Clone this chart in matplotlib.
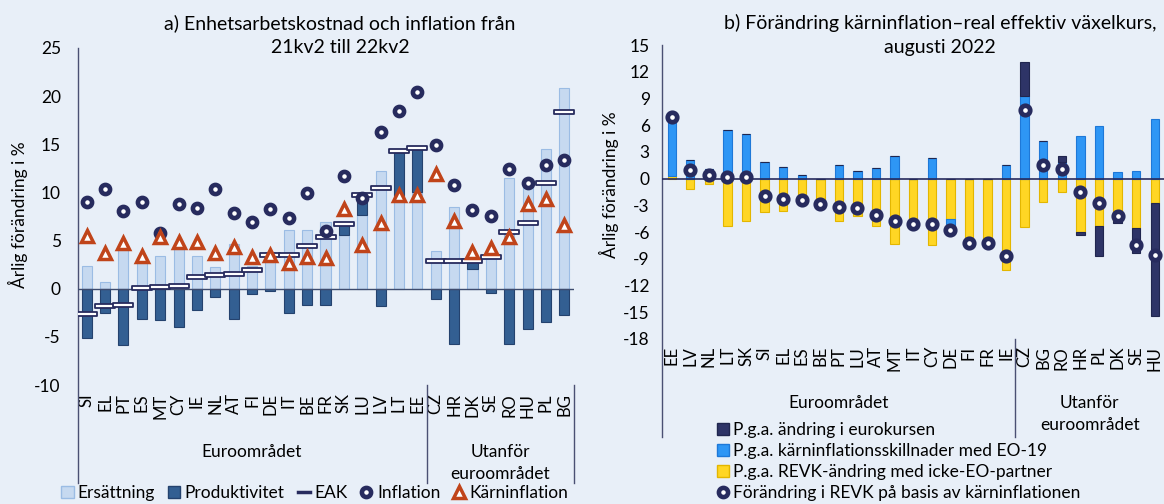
import matplotlib.pyplot as plt
import numpy as np
from matplotlib.path import Path
from matplotlib.patches import Patch
from matplotlib.lines import Line2D

plt.rcParams['font.family'] = ['Lato', 'DejaVu Sans']
plt.rcParams['axes.unicode_minus'] = False

bg = '#E8EFF8'
navy = '#272B5E'

# panel a) - unit labour cost and inflation
land_a = ['SI', 'EL', 'PT', 'ES', 'MT', 'CY', 'IE', 'NL', 'AT', 'FI', 'DE', 'IT', 'BE', 'FR', 'SK', 'LU',
          'LV', 'LT', 'EE', 'CZ', 'HR', 'DK', 'SE', 'RO', 'HU', 'PL', 'BG']
n_euro_a = 19
ersattning = [2.4, 0.7, 4.1, 3.2, 3.4, 4.1, 3.4, 2.3, 4.6, 2.4, 3.8, 6.1, 6.1, 6.9, 5.6, 7.7,
              12.2, 9.6, 10.0, 3.9, 8.5, 2.0, 3.7, 11.5, 11.0, 14.5, 20.8]
produktivitet = [-5.1, -2.55, -5.8, -3.1, -3.25, -3.95, -2.25, -0.85, -3.1, -0.5, -0.25, -2.55, -1.7, -1.7,
                 1.1, 2.0, -1.8, 4.7, 4.6, -1.1, -5.7, 0.85, -0.4, -5.7, -4.2, -3.5, -2.7]
eak = [-2.65, -1.75, -1.7, 0.1, 0.15, 0.25, 1.2, 1.45, 1.5, 1.95, 3.5, 3.55, 4.45, 5.4, 6.7, 9.7,
       10.45, 14.3, 14.65, 2.9, 2.9, 2.9, 3.3, 5.9, 6.8, 11.0, 18.3]
inflation = [9.0, 10.4, 8.1, 9.0, 5.8, 8.8, 8.4, 10.4, 7.9, 6.9, 8.3, 7.35, 9.95, 5.95, 11.7, 9.45,
             16.3, 18.5, 20.4, 14.95, 10.75, 8.2, 7.6, 12.4, 11.0, 12.8, 13.4]
karninflation = [5.45, 3.75, 4.7, 3.4, 5.35, 4.9, 4.8, 3.75, 4.35, 3.3, 3.5, 2.7, 3.3, 3.2, 8.3, 4.5,
                 6.8, 9.75, 9.75, 11.9, 7.0, 3.8, 4.25, 5.4, 8.8, 9.3, 6.6]

# panel b) - change in REER based on core inflation
land_b = ['EE', 'LV', 'NL', 'LT', 'SK', 'SI', 'EL', 'ES', 'BE', 'PT', 'LU', 'AT', 'MT', 'IT', 'CY', 'DE',
          'FI', 'FR', 'IE', 'CZ', 'BG', 'RO', 'HR', 'PL', 'DK', 'SE', 'HU']
n_euro_b = 19
icke_eo = [0.3, -1.15, -0.6, -5.3, -4.8, -3.8, -3.6, -2.9, -2.8, -4.75, -4.2, -5.3, -7.3, -5.1, -7.4, -4.5,
           -7.3, -7.3, -10.2, -5.45, -2.65, -1.45, -6.0, -5.3, -4.8, -5.5, -2.75]
karn_skillnad = [6.6, 2.1, 1.05, 5.5, 5.0, 1.9, 1.3, 0.45, 0.0, 1.55, 0.85, 1.2, 2.5, 0.0, 2.3, -1.3,
                 0.0, 0.0, 1.5, 9.3, 4.2, 1.9, 4.8, 5.9, 0.8, 0.9, 6.7]
eurokurs = [0, 0, 0, 0, 0, 0, 0, 0, 0, 0, 0, 0, 0, 0, 0, 0,
            0, 0, 0, 3.75, 0, 0.65, -0.35, -3.4, -0.2, -2.85, -12.65]
revk = [6.9, 1.0, 0.45, 0.2, 0.2, -1.9, -2.3, -2.45, -2.8, -3.2, -3.35, -4.1, -4.8, -5.1, -5.1, -5.8,
        -7.25, -7.25, -8.7, 7.7, 1.55, 1.1, -1.55, -2.75, -4.2, -7.4, -8.55]

eak_marker = Path([(-1, -0.22), (1, -0.22), (1, 0.22), (-1, 0.22), (-1, -0.22)],
                  [Path.MOVETO, Path.LINETO, Path.LINETO, Path.LINETO, Path.CLOSEPOLY])

FS = 12.5


def stack(ax, x, series, colors, edges, width):
    pos = np.zeros(len(x))
    neg = np.zeros(len(x))
    for vals, c, e in zip(series, colors, edges):
        vals = np.asarray(vals, dtype=float)
        bottom = np.where(vals >= 0, pos, neg)
        ax.bar(x, vals, width, bottom=bottom, color=c, edgecolor=e, linewidth=0.8, zorder=2)
        pos = pos + np.where(vals > 0, vals, 0)
        neg = neg + np.where(vals < 0, vals, 0)


def style_axis(ax, labels, n_euro, drop):
    ax.set_facecolor(bg)
    for s in ax.spines.values():
        s.set_visible(False)
    ax.set_xlim(-0.5, len(labels) - 0.5)
    ax.set_xticks(np.arange(len(labels)))
    ax.set_xticklabels(labels, rotation=90, fontsize=12)
    ax.tick_params(axis='both', length=0)
    tr = ax.get_xaxis_transform()
    ax.plot([-0.5, -0.5], [1, -drop], color='#4A5073', lw=1, transform=tr, clip_on=False)
    ax.plot([n_euro - 0.5, n_euro - 0.5], [0, -drop], color='#4A5073', lw=1, transform=tr, clip_on=False)


def group_labels(ax, n_euro, n_all, y):
    tr = ax.get_xaxis_transform()
    ax.text((n_euro - 1) / 2, y, 'Euroområdet', transform=tr, ha='center', va='top', fontsize=FS)
    ax.text(n_euro + (n_all - n_euro - 1) / 2, y, 'Utanför\neuroområdet', transform=tr,
            ha='center', va='top', fontsize=FS, linespacing=1.45)


fig = plt.figure(figsize=(11.64, 5.04), dpi=100)
fig.patch.set_facecolor(bg)

# ---- panel a
ax1 = fig.add_axes([0.0666, 0.2361, 0.4261, 0.6687])
xa = np.arange(len(land_a))
stack(ax1, xa, [ersattning], ['#C6D9F0'], ['#9BBCE4'], 0.55)
prod = np.asarray(produktivitet)
ax1.bar(xa, prod, 0.55, bottom=np.where(prod > 0, ersattning, 0), color='#335F92',
        edgecolor='#24426E', linewidth=0.8, zorder=2)
ax1.axhline(0, color='#3E4C6E', lw=1, zorder=3)
ax1.plot(xa, eak, ls='none', marker=eak_marker, ms=15, mfc='white', mec=navy, mew=1.3, zorder=4)
ax1.plot(xa, inflation, ls='none', marker='o', ms=6.6, mfc='white', mec=navy, mew=3.3, zorder=5)
ax1.plot(xa, karninflation, ls='none', marker='^', ms=8.3, mfc='white', mec='#C0441A', mew=2.5, zorder=6)
ax1.set_ylim(-10, 25)
ax1.set_yticks(np.arange(-10, 26, 5))
ax1.tick_params(axis='y', labelsize=FS, pad=12)
ax1.tick_params(axis='x', pad=6)
style_axis(ax1, land_a, n_euro_a, 0.29)
ax1.plot([len(land_a) - 0.5] * 2, [0, -0.29], color='#4A5073', lw=1,
         transform=ax1.get_xaxis_transform(), clip_on=False)
group_labels(ax1, n_euro_a, len(land_a), -0.176)
fig.text(18 / 1164, 1 - 215 / 504, 'Årlig förändring i %', rotation=90, ha='center', va='center', fontsize=FS)
fig.text(340 / 1164, 1 - 35 / 504, 'a) Enhetsarbetskostnad och inflation från\n21kv2 till 22kv2',
         ha='center', va='center', fontsize=14, linespacing=1.5)

handles_a = [Patch(facecolor='#C6D9F0', edgecolor='#9BBCE4'),
             Patch(facecolor='#335F92', edgecolor='#24426E'),
             Line2D([], [], color=navy, lw=2.5),
             Line2D([], [], ls='none', marker='o', ms=6.6, mfc='white', mec=navy, mew=3.3),
             Line2D([], [], ls='none', marker='^', ms=8.3, mfc='white', mec='#C0441A', mew=2.5)]
fig.legend(handles_a, ['Ersättning', 'Produktivitet', 'EAK', 'Inflation', 'Kärninflation'],
           loc='center', bbox_to_anchor=(315 / 1164, 1 - 493 / 504), ncol=5, frameon=False,
           fontsize=FS, handlelength=0.7, handletextpad=0.25, columnspacing=0.75, borderpad=0)

# ---- panel b
ax2 = fig.add_axes([0.5691, 0.3274, 0.4309, 0.5833])
xb = np.arange(len(land_b))
stack(ax2, xb, [icke_eo, karn_skillnad, eurokurs],
      ['#FFD624', '#2E96F5', '#2E3467'], ['#E3B600', '#1E78D8', '#20264F'], 0.45)
ax2.axhline(0, color=navy, lw=1.2, zorder=3)
ax2.plot(xb, revk, ls='none', marker='o', ms=6.8, mfc='white', mec=navy, mew=3.4, zorder=5)
ax2.set_ylim(-18, 15)
ax2.set_yticks(np.arange(-18, 16, 3))
ax2.tick_params(axis='y', labelsize=FS, pad=9)
ax2.tick_params(axis='x', pad=5)
style_axis(ax2, land_b, n_euro_b, 0.333)
group_labels(ax2, n_euro_b, len(land_b), -0.19)
fig.text(609 / 1164, 1 - 185 / 504, 'Årlig förändring i %', rotation=90, ha='center', va='center', fontsize=FS)
fig.text(940 / 1164, 1 - 35 / 504, 'b) Förändring kärninflation–real effektiv växelkurs,\naugusti 2022',
         ha='center', va='center', fontsize=14, linespacing=1.5)

handles_b = [Patch(facecolor='#2E3467', edgecolor='#20264F'),
             Patch(facecolor='#2E96F5', edgecolor='#1E78D8'),
             Patch(facecolor='#FFD624', edgecolor='#E3B600'),
             Line2D([], [], ls='none', marker='o', ms=6.6, mfc='white', mec=navy, mew=3.3)]
fig.legend(handles_b, ['P.g.a. ändring i eurokursen', 'P.g.a. kärninflationsskillnader med EO-19',
                       'P.g.a. REVK-ändring med icke-EO-partner',
                       'Förändring i REVK på basis av kärninflationen'],
           loc='upper left', bbox_to_anchor=(708 / 1164, 1 - 413 / 504), frameon=False,
           fontsize=FS, handlelength=0.7, handletextpad=0.25, labelspacing=0.3, borderpad=0)

fig.savefig('out.png', dpi=100, facecolor=bg)
